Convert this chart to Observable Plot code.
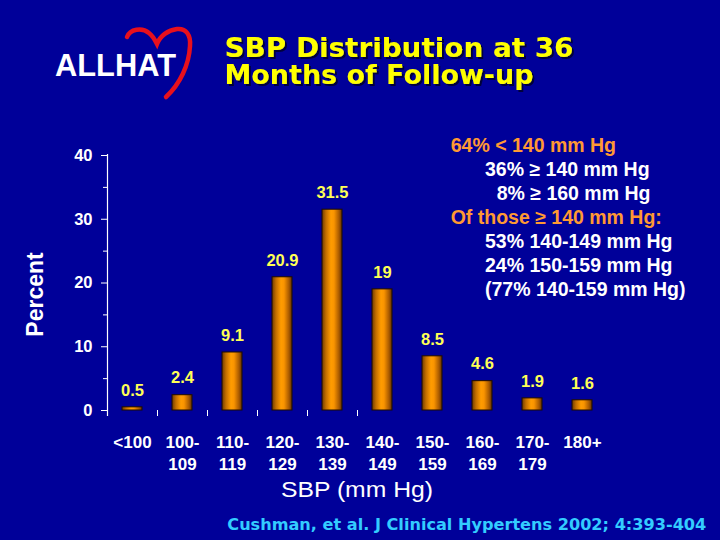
<!DOCTYPE html>
<html><head><meta charset="utf-8">
<script src="https://cdn.jsdelivr.net/npm/d3@7"></script>
<script src="https://cdn.jsdelivr.net/npm/@observablehq/plot@0.6"></script>
<style>
html,body{margin:0;padding:0;background:#000099;}
#wrap{position:relative;width:720px;height:540px;overflow:hidden;background:#000099;}
#chart,#overlay{position:absolute;left:0;top:0;}
</style></head>
<body><div id="wrap"><div id="chart"></div><svg id="overlay" width="720" height="540"></svg></div>
<script>
// ---- data ----
const categories = ["<100","100-109","110-119","120-129","130-139","140-149","150-159","160-169","170-179","180+"];
const tickLabels = ["<100","100-\n109","110-\n119","120-\n129","130-\n139","140-\n149","150-\n159","160-\n169","170-\n179","180+"];
const percents = [0.5, 2.4, 9.1, 20.9, 31.5, 19, 8.5, 4.6, 1.9, 1.6];
const yMajorTicks = [0, 10, 20, 30, 40];
const yMinorTicks = [5, 15, 25, 35];
const xBoundaryTicks = ["100-109","110-119","120-129","130-139","140-149"];
const titleLines = ["SBP Distribution at 36", "Months of Follow-up"];
const logoText = "ALLHAT";
const yLabel = "Percent";
const xLabel = "SBP (mm Hg)";
const noteLines = ["64% < 140 mm Hg","36% \u2265 140 mm Hg","8% \u2265 160 mm Hg","Of those \u2265 140 mm Hg:","53% 140-149 mm Hg","24% 150-159 mm Hg","(77% 140-159 mm Hg)"];
const noteIsHeading = [true,false,false,true,false,false,false];
const caption = "Cushman, et al. J Clinical Hypertens 2002; 4:393-404";

const rows = categories.map((c, i) => ({cat: c, value: percents[i]}));
const FONT = "'Liberation Sans', Arial, sans-serif";

const chart = Plot.plot({
  width: 720, height: 540,
  marginLeft: 107, marginRight: 113, marginTop: 155, marginBottom: 130,
  style: {background: "transparent", color: "white", fontFamily: FONT, overflow: "visible"},
  x: {domain: categories, paddingInner: 0.6, paddingOuter: 0.3, label: null},
  y: {domain: [0, 40], label: null},
  marks: [
    Plot.ruleX([categories[0]], {x: d => d, dx: -25, insetTop: -1, insetBottom: -6, stroke: "white", strokeWidth: 1.2}),
    Plot.axisY(yMajorTicks, {tickSize: 6, tickFormat: () => "", stroke: "white", label: null}),
    Plot.axisY(yMinorTicks, {tickSize: 4, tickFormat: () => "", stroke: "white", label: null}),
    Plot.text(yMajorTicks, {y: d => d, text: d => String(d), frameAnchor: "left", dx: -15, textAnchor: "end",
      lineAnchor: "middle", fill: "white", fontSize: 16.5, fontWeight: "bold"}),
    Plot.axisX(xBoundaryTicks, {dx: -25, tickSize: 6, tickFormat: () => "", stroke: "white", label: null}),
    Plot.barY(rows, {x: "cat", y: "value", fill: "url(#barGrad)", stroke: "#1e0c00", strokeWidth: 1}),
    Plot.text(rows, {x: "cat", y: "value", text: d => String(d.value), dy: -17, lineAnchor: "middle",
      fill: "#FFFF55", fontSize: 16.5, fontWeight: "bold"}),
    Plot.text(categories, {x: d => d, text: (d, i) => tickLabels[i], frameAnchor: "bottom", dy: 22,
      lineAnchor: "top", lineHeight: 1.3, fill: "white", fontSize: 17, fontWeight: "bold"})
  ]
});

const defs = d3.select(chart).insert("defs", ":first-child");
const g = defs.append("linearGradient").attr("id", "barGrad").attr("x1", 0).attr("x2", 1).attr("y1", 0).attr("y2", 0);
[[0, "#6e3a00"], [0.2, "#c26f00"], [0.45, "#ff9c00"], [0.6, "#f99400"], [0.85, "#a85a00"], [1, "#5e3000"]]
  .forEach(([o, c]) => g.append("stop").attr("offset", o).attr("stop-color", c));
document.getElementById("chart").appendChild(chart);

// ---- overlay text (titles, logo, notes, caption) ----
const ov = d3.select("#overlay");
const od = ov.append("defs");
const f = od.append("filter").attr("id", "shadow").attr("x", "-5%").attr("y", "-20%").attr("width", "120%").attr("height", "150%");
f.append("feDropShadow").attr("dx", 2).attr("dy", 2).attr("stdDeviation", 0.6).attr("flood-color", "#000030").attr("flood-opacity", 0.9);

// heart
ov.append("path")
  .attr("d", "M127,37 C130,29 142,27 149,33 C153,36 155,40 157,44 C160,36 168,30 177,29 C186,28 191,35 190,46 C189,65 180,84 166,97")
  .attr("fill", "none").attr("stroke", "#e8101c").attr("stroke-width", 4.5).attr("stroke-linecap", "round");
ov.append("text").text(logoText).attr("x", 55).attr("y", 76)
  .attr("font-family", FONT).attr("font-weight", "bold").attr("font-size", 31).attr("fill", "white")
  .attr("textLength", 121).attr("lengthAdjust", "spacingAndGlyphs");

const titleBase = [56.7, 84];
const titleWidth = [349, 309];
titleLines.forEach((t, i) => {
  ov.append("text").text(t).attr("x", 224.5).attr("y", titleBase[i])
    .attr("font-family", "'DejaVu Sans', Verdana, sans-serif").attr("font-weight", "bold").attr("font-size", 26.5)
    .attr("fill", "#FFFF00").attr("filter", "url(#shadow)")
    .attr("textLength", titleWidth[i]).attr("lengthAdjust", "spacingAndGlyphs");
});

const noteX = [450.7, 485, 496.7, 450.7, 485, 485, 485];
noteLines.forEach((t, i) => {
  ov.append("text").text(t).attr("x", noteX[i]).attr("y", 152 + i * 24.05)
    .attr("font-family", FONT).attr("font-weight", "bold").attr("font-size", 19.5)
    .attr("fill", noteIsHeading[i] ? "#FF9933" : "white");
});

ov.append("text").text(yLabel).attr("transform", "translate(42.7,294.5) rotate(-90)")
  .attr("text-anchor", "middle").attr("font-family", FONT).attr("font-weight", "bold").attr("font-size", 23).attr("fill", "white");

ov.append("text").text(xLabel).attr("x", 357).attr("y", 497).attr("text-anchor", "middle")
  .attr("font-family", FONT).attr("font-size", 22).attr("fill", "white")
  .attr("textLength", 152).attr("lengthAdjust", "spacingAndGlyphs");

ov.append("text").text(caption).attr("x", 227.3).attr("y", 530)
  .attr("font-family", "'DejaVu Sans', Verdana, sans-serif").attr("font-weight", "bold").attr("font-size", 15.5)
  .attr("fill", "#33CCFF").attr("textLength", 479).attr("lengthAdjust", "spacingAndGlyphs");
</script>
</body></html>
